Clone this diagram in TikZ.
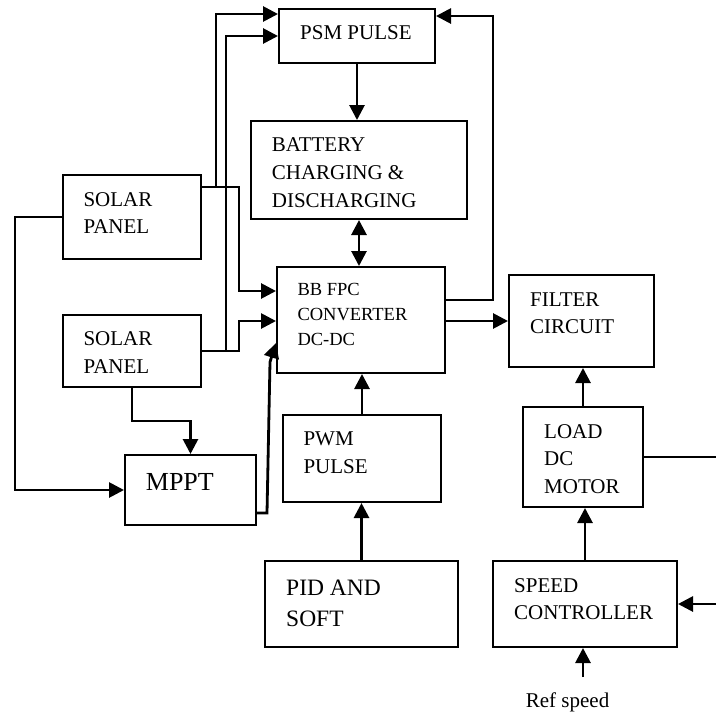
\documentclass[tikz,border=0pt]{standalone}
\usepackage{fontspec}
\setmainfont{Liberation Serif}
\usetikzlibrary{arrows.meta}
\newcommand{\mylines}[1]{\begin{tabular}[t]{@{}l@{}}#1\end{tabular}}
\begin{document}
\begin{tikzpicture}[x=1pt,y=-1pt,
 box/.style={draw, line width=2pt, inner sep=0pt, rectangle},
 lbl/.style={anchor=base west, inner sep=0pt, font=\fontsize{21}{27}\selectfont},
 conn/.style={line width=2.8pt},
 arr/.style={conn, -{Triangle[length=15pt,width=15pt]}},
 darr/.style={conn, {Triangle[length=15pt,width=15pt]}-{Triangle[length=15pt,width=15pt]}},
]
\useasboundingbox (0,0) rectangle (716,713);

% boxes
\node[box, minimum width=156pt, minimum height=54pt] (psm) at (357,36) {};
\node[box, minimum width=216pt, minimum height=98pt] (bat) at (359,170) {};
\node[box, minimum width=138pt, minimum height=84pt] (sol1) at (132,217) {};
\node[box, minimum width=138pt, minimum height=72pt] (sol2) at (132,351) {};
\node[box, minimum width=168pt, minimum height=106pt] (bb) at (361,320) {};
\node[box, minimum width=145pt, minimum height=92pt] (filt) at (581.5,321) {};
\node[box, minimum width=131pt, minimum height=70pt] (mppt) at (190.5,490) {};
\node[box, minimum width=158pt, minimum height=87pt] (pwm) at (362,458.5) {};
\node[box, minimum width=193pt, minimum height=86pt] (pid) at (361.5,604) {};
\node[box, minimum width=120pt, minimum height=100pt] (load) at (583,457) {};
\node[box, minimum width=184pt, minimum height=86pt] (speed) at (585,604) {};

% texts
\node[lbl] (tpsm) at (300,39.3) {PSM PULSE};
\node[lbl, font=\fontsize{21}{27.8}\selectfont] (tbat) at (271.7,151.7) {\mylines{BATTERY\\CHARGING \&\\DISCHARGING}};
\node[lbl, font=\fontsize{21}{26.7}\selectfont] (tsol1) at (83.3,206.7) {\mylines{SOLAR\\PANEL}};
\node[lbl, font=\fontsize{21}{28}\selectfont] (tsol2) at (83.3,345.5) {\mylines{SOLAR\\PANEL}};
\node[lbl, font=\fontsize{18.5}{25}\selectfont] (tbb) at (297.3,295) {\mylines{BB FPC\\CONVERTER\\DC-DC}};
\node[lbl, font=\fontsize{21}{26.7}\selectfont] (tfilt) at (530,306.7) {\mylines{FILTER\\CIRCUIT}};
\node[lbl, font=\fontsize{26}{30}\selectfont] (tmppt) at (145.7,490) {MPPT};
\node[lbl, font=\fontsize{21}{27.7}\selectfont] (tpwm) at (303.3,445.7) {\mylines{PWM\\PULSE}};
\node[lbl, font=\fontsize{23.5}{31.7}\selectfont] (tpid) at (286,595) {\mylines{PID AND\\SOFT}};
\node[lbl, font=\fontsize{21}{27.5}\selectfont] (tload) at (544,438.3) {\mylines{LOAD\\DC\\MOTOR}};
\node[lbl, font=\fontsize{21}{26.7}\selectfont] (tspeed) at (514,592.3) {\mylines{SPEED\\CONTROLLER}};
\node[lbl] (tref) at (525.7,707.5) {Ref speed};

% free ends
\coordinate (loadout) at (716,457);
\coordinate (speedin) at (716,604);
\coordinate (refin) at (583,677);

% connectors
\draw[arr] (psm.south) -- (psm.south |- bat.north);
\draw[darr] (bat.south) -- (bat.south |- bb.north);
\draw[arr] (bb.east |- 0,300) -| (493,16) -- (psm.east |- 0,16);
\draw[arr] (bb.east |- 0,321) -- (filt.west |- 0,321);
\draw[arr] (load.north) -- (load.north |- filt.south);
\draw[arr] (speed.north) -- (speed.north |- load.south);
\draw[conn] (load.east) -- (loadout);
\draw[arr] (speedin) -- (speed.east);
\draw[arr] (refin) -- (refin |- speed.south);
\draw[arr] (pid.north) -- (pid.north |- pwm.south);
\draw[arr] (pwm.north) -- (pwm.north |- bb.south);
% solar panel 1
\draw[arr] (sol1.east |- 0,187) -| (239,291) -- (bb.west |- 0,291);
\draw[arr] (216,187) |- (psm.west |- 0,14);
% solar panel 2
\draw[arr] (sol2.east) -| (239,321) -- (bb.west |- 0,321);
\draw[arr] (226,351) |- (psm.west |- 0,36);
% mppt
\draw[arr] (mppt.east |- 0,513) -- (267,513) -- (270,362) -- (bb.west |- 0,343);
\draw[arr] (sol1.west) -| (15,490) -- (mppt.west);
\draw[arr] (sol2.south) |- (mppt.north |- 0,421) -- (mppt.north);
\end{tikzpicture}
\end{document}
